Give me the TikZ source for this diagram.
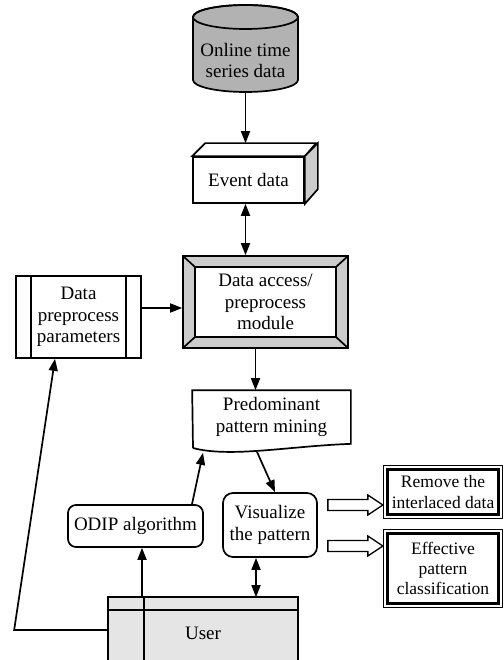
\documentclass[tikz,border=0pt]{standalone}
\usepackage{fontspec}
\setmainfont{Liberation Serif}
\usetikzlibrary{arrows.meta}
\definecolor{cylfill}{gray}{0.7}
\definecolor{sidefill}{gray}{0.8}
\definecolor{userfill}{gray}{0.9}
\begin{document}
\begin{tikzpicture}[x=1pt,y=-1pt,line width=1.7pt,font=\fontsize{19}{21.5}\selectfont,
		>={Triangle[length=12pt,width=9pt]}]
		\tikzstyle{every node}+=[inner sep=0pt,align=center]
		\tikzstyle{box}=[draw,fill=white]
		\useasboundingbox (0,0) rectangle (503,660);
		\filldraw [fill=cylfill] (193,17) -- (193,80) arc[start angle=180,end angle=0,x radius=52.5,y radius=12] -- (298,17) arc[start angle=0,end angle=-180,x radius=52.5,y radius=12] -- cycle;
		\draw (245.5,17) ellipse[x radius=52.5,y radius=12];
		\node [minimum width=105pt,minimum height=63pt] (online) at (245.5,60.5) {Online time\\series data};
		\node [box,minimum width=111pt,minimum height=46pt] (event) at (248.5,180) {Event data};
		\filldraw [fill=white] (event.north west) -- ++(13,-13) -- ++(111,0) -- (event.north east) -- cycle;
		\filldraw [fill=sidefill] (event.north east) -- ++(13,-13) -- ++(0,46) -- (event.south east) -- cycle;
		\filldraw [fill=sidefill] (183,256) rectangle (348,348);
		\filldraw [fill=white] (195,267) rectangle (336,337);
		\draw (183,256) -- (195,267) (348,256) -- (336,267) (183,348) -- (195,337) (348,348) -- (336,337);
		\node [minimum width=165pt,minimum height=92pt] (dam) at (265.5,302) {Data access/\\preprocess\\module};
		\node [box,minimum width=125pt,minimum height=82pt] (dpp) at (78.5,317) {Data\\preprocess\\parameters};
		\draw ([xshift=16pt]dpp.north west) -- ([xshift=16pt]dpp.south west);
		\draw ([xshift=-16pt]dpp.north east) -- ([xshift=-16pt]dpp.south east);
		\node [minimum width=157pt,minimum height=52pt] (mine) at (271.5,417) {Predominant\\pattern mining};
		\draw (193,448) -- (mine.north west) -- (mine.north east) -- (mine.south east) .. controls (290,446) and (230,458) .. (193,448);
		\node [box,rounded corners=10pt,minimum width=94pt,minimum height=64pt] (vis) at (270,525) {Visualize\\the pattern};
		\node [box,rounded corners=8pt,minimum width=135pt,minimum height=42pt] (odip) at (135.5,526) {ODIP algorithm};
		\node [fill=userfill,minimum width=188pt,minimum height=70pt] (user) at (203,633) {User};
		\draw (user.south west) -- (user.north west) -- (user.north east) -- (user.south east);
		\draw ([yshift=-13pt]user.north west) -- ([yshift=-13pt]user.north east);
		\draw ([xshift=36pt]user.north west) -- ([xshift=36pt]user.south west);
		\node [font=\fontsize{17.5}{21}\selectfont,minimum width=118pt,minimum height=52pt] (rem) at (443,492) {Remove the\\interlaced data};
		\node [font=\fontsize{17.5}{20}\selectfont,minimum width=118pt,minimum height=77pt] (eff) at (443,568.5) {Effective\\pattern\\classification};
		\foreach \b in {rem,eff} {
			\draw [line width=0.9pt] (\b.north west) rectangle (\b.south east);
			\draw [line width=2.8pt] ([shift={(4pt,-4pt)}]\b.north west) rectangle ([shift={(-4pt,4pt)}]\b.south east);
		}
		\foreach \dy in {20,-21}
			\draw [line width=1.3pt] ([xshift=10pt,yshift=\dy pt]vis.east) ++(0,-5.5) -- ++(40,0) -- ++(0,-4.5) -- ++(15,10) -- ++(-15,10) -- ++(0,-4.5) -- ++(-40,0) -- cycle;
		\draw [->] (online.south) -- ([xshift=-3pt,yshift=13pt]event.north);
		\draw [<->] ([xshift=-3pt]event.south) -- ([xshift=-3pt]event.south |- dam.north);
		\draw [->] ([yshift=9pt]dpp.east) -- ([yshift=9pt]dpp.east -| dam.west);
		\draw [->] ([xshift=-10pt]dam.south) -- ([xshift=-10pt]dam.south |- mine.north);
		\draw [->] ([xshift=-14.5pt,yshift=-8pt]mine.south) -- ([xshift=5pt]vis.north);
		\draw [->] ([xshift=56.5pt]odip.north) -- ([xshift=-68.5pt,yshift=-9pt]mine.south);
		\draw [->] ([xshift=6.5pt]odip.south |- user.north) -- ([xshift=6.5pt]odip.south);
		\draw [<->] ([xshift=-14pt]vis.south) -- ([xshift=-14pt]vis.south |- user.north);
		\draw [->] ([yshift=3pt]user.west) -- ++(-94,0) -- ([xshift=-23.5pt]dpp.south);
	\end{tikzpicture}
\end{document}
